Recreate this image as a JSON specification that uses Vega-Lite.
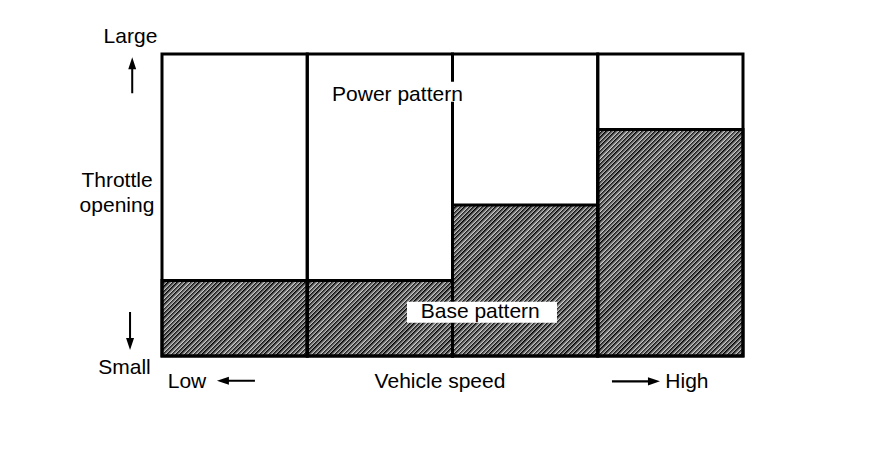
{
  "$schema": "https://vega.github.io/schema/vega-lite/v6.json",
  "width": 581,
  "height": 302,
  "autosize": {"type": "none"},
  "padding": {"left": 162, "top": 54, "right": 153, "bottom": 94},
  "background": "white",
  "config": {
    "view": {"stroke": null},
    "text": {"font": "Liberation Sans", "fontSize": 21, "color": "black", "align": "center", "baseline": "alphabetic"},
    "point": {"color": "black", "filled": true, "opacity": 1, "strokeWidth": 0}
  },
  "data": {"values": [
    {"speed": "low", "x0": 0, "x1": 1, "floor": 0, "base": 25, "power": 100},
    {"speed": "mid-low", "x0": 1, "x1": 2, "floor": 0, "base": 25, "power": 100},
    {"speed": "mid-high", "x0": 2, "x1": 3, "floor": 0, "base": 50, "power": 100},
    {"speed": "high", "x0": 3, "x1": 4, "floor": 0, "base": 75, "power": 100}
  ]},
  "layer": [
    {
      "transform": [{"aggregate": [{"op": "min", "field": "x0", "as": "lo"}, {"op": "max", "field": "x1", "as": "hi"}, {"op": "min", "field": "floor", "as": "f"}, {"op": "max", "field": "power", "as": "p"}]}],
      "mark": {"type": "rect", "fill": {"gradient": "linear", "x1": 0, "y1": 0, "x2": 1.1965, "y2": 0.622, "stops": [
        {"offset":0,"color":"#000"},
        {"offset":0.005,"color":"#ccc"},{"offset":0.005,"color":"#000"},{"offset":0.01,"color":"#ccc"},{"offset":0.01,"color":"#000"},
        {"offset":0.015,"color":"#ccc"},{"offset":0.015,"color":"#000"},{"offset":0.02,"color":"#ccc"},{"offset":0.02,"color":"#000"},
        {"offset":0.025,"color":"#ccc"},{"offset":0.025,"color":"#000"},{"offset":0.03,"color":"#ccc"},{"offset":0.03,"color":"#000"},
        {"offset":0.035,"color":"#ccc"},{"offset":0.035,"color":"#000"},{"offset":0.04,"color":"#ccc"},{"offset":0.04,"color":"#000"},
        {"offset":0.045,"color":"#ccc"},{"offset":0.045,"color":"#000"},{"offset":0.05,"color":"#ccc"},{"offset":0.05,"color":"#000"},
        {"offset":0.055,"color":"#ccc"},{"offset":0.055,"color":"#000"},{"offset":0.06,"color":"#ccc"},{"offset":0.06,"color":"#000"},
        {"offset":0.065,"color":"#ccc"},{"offset":0.065,"color":"#000"},{"offset":0.07,"color":"#ccc"},{"offset":0.07,"color":"#000"},
        {"offset":0.075,"color":"#ccc"},{"offset":0.075,"color":"#000"},{"offset":0.08,"color":"#ccc"},{"offset":0.08,"color":"#000"},
        {"offset":0.085,"color":"#ccc"},{"offset":0.085,"color":"#000"},{"offset":0.09,"color":"#ccc"},{"offset":0.09,"color":"#000"},
        {"offset":0.095,"color":"#ccc"},{"offset":0.095,"color":"#000"},{"offset":0.1,"color":"#ccc"},{"offset":0.1,"color":"#000"},
        {"offset":0.105,"color":"#ccc"},{"offset":0.105,"color":"#000"},{"offset":0.11,"color":"#ccc"},{"offset":0.11,"color":"#000"},
        {"offset":0.115,"color":"#ccc"},{"offset":0.115,"color":"#000"},{"offset":0.12,"color":"#ccc"},{"offset":0.12,"color":"#000"},
        {"offset":0.125,"color":"#ccc"},{"offset":0.125,"color":"#000"},{"offset":0.13,"color":"#ccc"},{"offset":0.13,"color":"#000"},
        {"offset":0.135,"color":"#ccc"},{"offset":0.135,"color":"#000"},{"offset":0.14,"color":"#ccc"},{"offset":0.14,"color":"#000"},
        {"offset":0.145,"color":"#ccc"},{"offset":0.145,"color":"#000"},{"offset":0.15,"color":"#ccc"},{"offset":0.15,"color":"#000"},
        {"offset":0.155,"color":"#ccc"},{"offset":0.155,"color":"#000"},{"offset":0.16,"color":"#ccc"},{"offset":0.16,"color":"#000"},
        {"offset":0.165,"color":"#ccc"},{"offset":0.165,"color":"#000"},{"offset":0.17,"color":"#ccc"},{"offset":0.17,"color":"#000"},
        {"offset":0.175,"color":"#ccc"},{"offset":0.175,"color":"#000"},{"offset":0.18,"color":"#ccc"},{"offset":0.18,"color":"#000"},
        {"offset":0.185,"color":"#ccc"},{"offset":0.185,"color":"#000"},{"offset":0.19,"color":"#ccc"},{"offset":0.19,"color":"#000"},
        {"offset":0.195,"color":"#ccc"},{"offset":0.195,"color":"#000"},{"offset":0.2,"color":"#ccc"},{"offset":0.2,"color":"#000"},
        {"offset":0.205,"color":"#ccc"},{"offset":0.205,"color":"#000"},{"offset":0.21,"color":"#ccc"},{"offset":0.21,"color":"#000"},
        {"offset":0.215,"color":"#ccc"},{"offset":0.215,"color":"#000"},{"offset":0.22,"color":"#ccc"},{"offset":0.22,"color":"#000"},
        {"offset":0.225,"color":"#ccc"},{"offset":0.225,"color":"#000"},{"offset":0.23,"color":"#ccc"},{"offset":0.23,"color":"#000"},
        {"offset":0.235,"color":"#ccc"},{"offset":0.235,"color":"#000"},{"offset":0.24,"color":"#ccc"},{"offset":0.24,"color":"#000"},
        {"offset":0.245,"color":"#ccc"},{"offset":0.245,"color":"#000"},{"offset":0.25,"color":"#ccc"},{"offset":0.25,"color":"#000"},
        {"offset":0.255,"color":"#ccc"},{"offset":0.255,"color":"#000"},{"offset":0.26,"color":"#ccc"},{"offset":0.26,"color":"#000"},
        {"offset":0.265,"color":"#ccc"},{"offset":0.265,"color":"#000"},{"offset":0.27,"color":"#ccc"},{"offset":0.27,"color":"#000"},
        {"offset":0.275,"color":"#ccc"},{"offset":0.275,"color":"#000"},{"offset":0.28,"color":"#ccc"},{"offset":0.28,"color":"#000"},
        {"offset":0.285,"color":"#ccc"},{"offset":0.285,"color":"#000"},{"offset":0.29,"color":"#ccc"},{"offset":0.29,"color":"#000"},
        {"offset":0.295,"color":"#ccc"},{"offset":0.295,"color":"#000"},{"offset":0.3,"color":"#ccc"},{"offset":0.3,"color":"#000"},
        {"offset":0.305,"color":"#ccc"},{"offset":0.305,"color":"#000"},{"offset":0.31,"color":"#ccc"},{"offset":0.31,"color":"#000"},
        {"offset":0.315,"color":"#ccc"},{"offset":0.315,"color":"#000"},{"offset":0.32,"color":"#ccc"},{"offset":0.32,"color":"#000"},
        {"offset":0.325,"color":"#ccc"},{"offset":0.325,"color":"#000"},{"offset":0.33,"color":"#ccc"},{"offset":0.33,"color":"#000"},
        {"offset":0.335,"color":"#ccc"},{"offset":0.335,"color":"#000"},{"offset":0.34,"color":"#ccc"},{"offset":0.34,"color":"#000"},
        {"offset":0.345,"color":"#ccc"},{"offset":0.345,"color":"#000"},{"offset":0.35,"color":"#ccc"},{"offset":0.35,"color":"#000"},
        {"offset":0.355,"color":"#ccc"},{"offset":0.355,"color":"#000"},{"offset":0.36,"color":"#ccc"},{"offset":0.36,"color":"#000"},
        {"offset":0.365,"color":"#ccc"},{"offset":0.365,"color":"#000"},{"offset":0.37,"color":"#ccc"},{"offset":0.37,"color":"#000"},
        {"offset":0.375,"color":"#ccc"},{"offset":0.375,"color":"#000"},{"offset":0.38,"color":"#ccc"},{"offset":0.38,"color":"#000"},
        {"offset":0.385,"color":"#ccc"},{"offset":0.385,"color":"#000"},{"offset":0.39,"color":"#ccc"},{"offset":0.39,"color":"#000"},
        {"offset":0.395,"color":"#ccc"},{"offset":0.395,"color":"#000"},{"offset":0.4,"color":"#ccc"},{"offset":0.4,"color":"#000"},
        {"offset":0.405,"color":"#ccc"},{"offset":0.405,"color":"#000"},{"offset":0.41,"color":"#ccc"},{"offset":0.41,"color":"#000"},
        {"offset":0.415,"color":"#ccc"},{"offset":0.415,"color":"#000"},{"offset":0.42,"color":"#ccc"},{"offset":0.42,"color":"#000"},
        {"offset":0.425,"color":"#ccc"},{"offset":0.425,"color":"#000"},{"offset":0.43,"color":"#ccc"},{"offset":0.43,"color":"#000"},
        {"offset":0.435,"color":"#ccc"},{"offset":0.435,"color":"#000"},{"offset":0.44,"color":"#ccc"},{"offset":0.44,"color":"#000"},
        {"offset":0.445,"color":"#ccc"},{"offset":0.445,"color":"#000"},{"offset":0.45,"color":"#ccc"},{"offset":0.45,"color":"#000"},
        {"offset":0.455,"color":"#ccc"},{"offset":0.455,"color":"#000"},{"offset":0.46,"color":"#ccc"},{"offset":0.46,"color":"#000"},
        {"offset":0.465,"color":"#ccc"},{"offset":0.465,"color":"#000"},{"offset":0.47,"color":"#ccc"},{"offset":0.47,"color":"#000"},
        {"offset":0.475,"color":"#ccc"},{"offset":0.475,"color":"#000"},{"offset":0.48,"color":"#ccc"},{"offset":0.48,"color":"#000"},
        {"offset":0.485,"color":"#ccc"},{"offset":0.485,"color":"#000"},{"offset":0.49,"color":"#ccc"},{"offset":0.49,"color":"#000"},
        {"offset":0.495,"color":"#ccc"},{"offset":0.495,"color":"#000"},{"offset":0.5,"color":"#ccc"},{"offset":0.5,"color":"#000"},
        {"offset":0.505,"color":"#ccc"},{"offset":0.505,"color":"#000"},{"offset":0.51,"color":"#ccc"},{"offset":0.51,"color":"#000"},
        {"offset":0.515,"color":"#ccc"},{"offset":0.515,"color":"#000"},{"offset":0.52,"color":"#ccc"},{"offset":0.52,"color":"#000"},
        {"offset":0.525,"color":"#ccc"},{"offset":0.525,"color":"#000"},{"offset":0.53,"color":"#ccc"},{"offset":0.53,"color":"#000"},
        {"offset":0.535,"color":"#ccc"},{"offset":0.535,"color":"#000"},{"offset":0.54,"color":"#ccc"},{"offset":0.54,"color":"#000"},
        {"offset":0.545,"color":"#ccc"},{"offset":0.545,"color":"#000"},{"offset":0.55,"color":"#ccc"},{"offset":0.55,"color":"#000"},
        {"offset":0.555,"color":"#ccc"},{"offset":0.555,"color":"#000"},{"offset":0.56,"color":"#ccc"},{"offset":0.56,"color":"#000"},
        {"offset":0.565,"color":"#ccc"},{"offset":0.565,"color":"#000"},{"offset":0.57,"color":"#ccc"},{"offset":0.57,"color":"#000"},
        {"offset":0.575,"color":"#ccc"},{"offset":0.575,"color":"#000"},{"offset":0.58,"color":"#ccc"},{"offset":0.58,"color":"#000"},
        {"offset":0.585,"color":"#ccc"},{"offset":0.585,"color":"#000"},{"offset":0.59,"color":"#ccc"},{"offset":0.59,"color":"#000"},
        {"offset":0.595,"color":"#ccc"},{"offset":0.595,"color":"#000"},{"offset":0.6,"color":"#ccc"},{"offset":0.6,"color":"#000"},
        {"offset":0.605,"color":"#ccc"},{"offset":0.605,"color":"#000"},{"offset":0.61,"color":"#ccc"},{"offset":0.61,"color":"#000"},
        {"offset":0.615,"color":"#ccc"},{"offset":0.615,"color":"#000"},{"offset":0.62,"color":"#ccc"},{"offset":0.62,"color":"#000"},
        {"offset":0.625,"color":"#ccc"},{"offset":0.625,"color":"#000"},{"offset":0.63,"color":"#ccc"},{"offset":0.63,"color":"#000"},
        {"offset":0.635,"color":"#ccc"},{"offset":0.635,"color":"#000"},{"offset":0.64,"color":"#ccc"},{"offset":0.64,"color":"#000"},
        {"offset":0.645,"color":"#ccc"},{"offset":0.645,"color":"#000"},{"offset":0.65,"color":"#ccc"},{"offset":0.65,"color":"#000"},
        {"offset":0.655,"color":"#ccc"},{"offset":0.655,"color":"#000"},{"offset":0.66,"color":"#ccc"},{"offset":0.66,"color":"#000"},
        {"offset":0.665,"color":"#ccc"},{"offset":0.665,"color":"#000"},{"offset":0.67,"color":"#ccc"},{"offset":0.67,"color":"#000"},
        {"offset":0.675,"color":"#ccc"},{"offset":0.675,"color":"#000"},{"offset":0.68,"color":"#ccc"},{"offset":0.68,"color":"#000"},
        {"offset":0.685,"color":"#ccc"},{"offset":0.685,"color":"#000"},{"offset":0.69,"color":"#ccc"},{"offset":0.69,"color":"#000"},
        {"offset":0.695,"color":"#ccc"},{"offset":0.695,"color":"#000"},{"offset":0.7,"color":"#ccc"},{"offset":0.7,"color":"#000"},
        {"offset":0.705,"color":"#ccc"},{"offset":0.705,"color":"#000"},{"offset":0.71,"color":"#ccc"},{"offset":0.71,"color":"#000"},
        {"offset":0.715,"color":"#ccc"},{"offset":0.715,"color":"#000"},{"offset":0.72,"color":"#ccc"},{"offset":0.72,"color":"#000"},
        {"offset":0.725,"color":"#ccc"},{"offset":0.725,"color":"#000"},{"offset":0.73,"color":"#ccc"},{"offset":0.73,"color":"#000"},
        {"offset":0.735,"color":"#ccc"},{"offset":0.735,"color":"#000"},{"offset":0.74,"color":"#ccc"},{"offset":0.74,"color":"#000"},
        {"offset":0.745,"color":"#ccc"},{"offset":0.745,"color":"#000"},{"offset":0.75,"color":"#ccc"},{"offset":0.75,"color":"#000"},
        {"offset":0.755,"color":"#ccc"},{"offset":0.755,"color":"#000"},{"offset":0.76,"color":"#ccc"},{"offset":0.76,"color":"#000"},
        {"offset":0.765,"color":"#ccc"},{"offset":0.765,"color":"#000"},{"offset":0.77,"color":"#ccc"},{"offset":0.77,"color":"#000"},
        {"offset":0.775,"color":"#ccc"},{"offset":0.775,"color":"#000"},{"offset":0.78,"color":"#ccc"},{"offset":0.78,"color":"#000"},
        {"offset":0.785,"color":"#ccc"},{"offset":0.785,"color":"#000"},{"offset":0.79,"color":"#ccc"},{"offset":0.79,"color":"#000"},
        {"offset":0.795,"color":"#ccc"},{"offset":0.795,"color":"#000"},{"offset":0.8,"color":"#ccc"},{"offset":0.8,"color":"#000"},
        {"offset":0.805,"color":"#ccc"},{"offset":0.805,"color":"#000"},{"offset":0.81,"color":"#ccc"},{"offset":0.81,"color":"#000"},
        {"offset":0.815,"color":"#ccc"},{"offset":0.815,"color":"#000"},{"offset":0.82,"color":"#ccc"},{"offset":0.82,"color":"#000"},
        {"offset":0.825,"color":"#ccc"},{"offset":0.825,"color":"#000"},{"offset":0.83,"color":"#ccc"},{"offset":0.83,"color":"#000"},
        {"offset":0.835,"color":"#ccc"},{"offset":0.835,"color":"#000"},{"offset":0.84,"color":"#ccc"},{"offset":0.84,"color":"#000"},
        {"offset":0.845,"color":"#ccc"},{"offset":0.845,"color":"#000"},{"offset":0.85,"color":"#ccc"},{"offset":0.85,"color":"#000"},
        {"offset":0.855,"color":"#ccc"},{"offset":0.855,"color":"#000"},{"offset":0.86,"color":"#ccc"},{"offset":0.86,"color":"#000"},
        {"offset":0.865,"color":"#ccc"},{"offset":0.865,"color":"#000"},{"offset":0.87,"color":"#ccc"},{"offset":0.87,"color":"#000"},
        {"offset":0.875,"color":"#ccc"},{"offset":0.875,"color":"#000"},{"offset":0.88,"color":"#ccc"},{"offset":0.88,"color":"#000"},
        {"offset":0.885,"color":"#ccc"},{"offset":0.885,"color":"#000"},{"offset":0.89,"color":"#ccc"},{"offset":0.89,"color":"#000"},
        {"offset":0.895,"color":"#ccc"},{"offset":0.895,"color":"#000"},{"offset":0.9,"color":"#ccc"},{"offset":0.9,"color":"#000"},
        {"offset":0.905,"color":"#ccc"},{"offset":0.905,"color":"#000"},{"offset":0.91,"color":"#ccc"},{"offset":0.91,"color":"#000"},
        {"offset":0.915,"color":"#ccc"},{"offset":0.915,"color":"#000"},{"offset":0.92,"color":"#ccc"},{"offset":0.92,"color":"#000"},
        {"offset":0.925,"color":"#ccc"},{"offset":0.925,"color":"#000"},{"offset":0.93,"color":"#ccc"},{"offset":0.93,"color":"#000"},
        {"offset":0.935,"color":"#ccc"},{"offset":0.935,"color":"#000"},{"offset":0.94,"color":"#ccc"},{"offset":0.94,"color":"#000"},
        {"offset":0.945,"color":"#ccc"},{"offset":0.945,"color":"#000"},{"offset":0.95,"color":"#ccc"},{"offset":0.95,"color":"#000"},
        {"offset":0.955,"color":"#ccc"},{"offset":0.955,"color":"#000"},{"offset":0.96,"color":"#ccc"},{"offset":0.96,"color":"#000"},
        {"offset":0.965,"color":"#ccc"},{"offset":0.965,"color":"#000"},{"offset":0.97,"color":"#ccc"},{"offset":0.97,"color":"#000"},
        {"offset":0.975,"color":"#ccc"},{"offset":0.975,"color":"#000"},{"offset":0.98,"color":"#ccc"},{"offset":0.98,"color":"#000"},
        {"offset":0.985,"color":"#ccc"},{"offset":0.985,"color":"#000"},{"offset":0.99,"color":"#ccc"},{"offset":0.99,"color":"#000"},
        {"offset":0.995,"color":"#ccc"},{"offset":0.995,"color":"#000"},{"offset":1,"color":"#ccc"}
      ]}},
      "encoding": {
        "x": {"field": "lo", "type": "quantitative", "scale": {"domain": [0, 4], "nice": false, "zero": false}, "axis": null},
        "x2": {"field": "hi"},
        "y": {"field": "f", "type": "quantitative", "scale": {"domain": [0, 100], "nice": false, "zero": false}, "axis": null},
        "y2": {"field": "p"}
      }
    },
    {
      "mark": {"type": "rect", "fill": "white", "strokeWidth": 0},
      "encoding": {
        "x": {"field": "x0", "type": "quantitative", "scale": {"domain": [0, 4], "nice": false, "zero": false}, "axis": null},
        "x2": {"field": "x1"},
        "y": {"field": "base", "type": "quantitative", "scale": {"domain": [0, 100], "nice": false, "zero": false}, "axis": null},
        "y2": {"field": "power"}
      }
    },
    {
      "mark": {"type": "rect", "filled": false, "stroke": "black", "strokeWidth": 3, "opacity": 1},
      "encoding": {
        "x": {"field": "x0", "type": "quantitative", "scale": {"domain": [0, 4], "nice": false, "zero": false}, "axis": null},
        "x2": {"field": "x1"},
        "y": {"field": "floor", "type": "quantitative", "scale": {"domain": [0, 100], "nice": false, "zero": false}, "axis": null},
        "y2": {"field": "power"}
      }
    },
    {
      "mark": {"type": "rect", "filled": false, "stroke": "black", "strokeWidth": 3, "opacity": 1},
      "encoding": {
        "x": {"field": "x0", "type": "quantitative", "scale": {"domain": [0, 4], "nice": false, "zero": false}, "axis": null},
        "x2": {"field": "x1"},
        "y": {"field": "floor", "type": "quantitative", "scale": {"domain": [0, 100], "nice": false, "zero": false}, "axis": null},
        "y2": {"field": "base"}
      }
    },
    {"data": {"values": [{}]}, "mark": {"type": "point", "shape": "M-1,-0.14L1,-0.14L1,0.14L-1,0.14Z", "size": 22500, "color": "white"}, "encoding": {"x": {"datum": 2.203, "type": "quantitative", "axis": null}, "y": {"datum": 14.5, "type": "quantitative", "axis": null}}},
    {"data": {"values": [{}]}, "mark": {"type": "point", "shape": "M-1,-0.15L1,-0.15L1,0.15L-1,0.15Z", "size": 17956, "color": "white"}, "encoding": {"x": {"datum": 1.621, "type": "quantitative", "axis": null}, "y": {"datum": 87.5, "type": "quantitative", "axis": null}}},
    {"data": {"values": [{}]}, "mark": {"type": "text", "text": "Base pattern"}, "encoding": {"x": {"datum": 2.191, "type": "quantitative", "axis": null}, "y": {"datum": 12.5, "type": "quantitative", "axis": null}}},
    {"data": {"values": [{}]}, "mark": {"type": "text", "text": "Power pattern"}, "encoding": {"x": {"datum": 1.621, "type": "quantitative", "axis": null}, "y": {"datum": 84.4, "type": "quantitative", "axis": null}}},
    {"data": {"values": [{}]}, "mark": {"type": "text", "text": "Large"}, "encoding": {"x": {"datum": -0.217, "type": "quantitative", "axis": null}, "y": {"datum": 103.6, "type": "quantitative", "axis": null}}},
    {"data": {"values": [{}]}, "mark": {"type": "text", "text": "Small"}, "encoding": {"x": {"datum": -0.258, "type": "quantitative", "axis": null}, "y": {"datum": -6.1, "type": "quantitative", "axis": null}}},
    {"data": {"values": [{}]}, "mark": {"type": "text", "text": "Throttle"}, "encoding": {"x": {"datum": -0.31, "type": "quantitative", "axis": null}, "y": {"datum": 56.1, "type": "quantitative", "axis": null}}},
    {"data": {"values": [{}]}, "mark": {"type": "text", "text": "opening"}, "encoding": {"x": {"datum": -0.31, "type": "quantitative", "axis": null}, "y": {"datum": 47.8, "type": "quantitative", "axis": null}}},
    {"data": {"values": [{}]}, "mark": {"type": "text", "text": "Low"}, "encoding": {"x": {"datum": 0.172, "type": "quantitative", "axis": null}, "y": {"datum": -10.6, "type": "quantitative", "axis": null}}},
    {"data": {"values": [{}]}, "mark": {"type": "text", "text": "Vehicle speed"}, "encoding": {"x": {"datum": 1.914, "type": "quantitative", "axis": null}, "y": {"datum": -10.6, "type": "quantitative", "axis": null}}},
    {"data": {"values": [{}]}, "mark": {"type": "text", "text": "High"}, "encoding": {"x": {"datum": 3.614, "type": "quantitative", "axis": null}, "y": {"datum": -10.6, "type": "quantitative", "axis": null}}},
    {"data": {"values": [{}]}, "mark": {"type": "point", "shape": "M0,-1L0.22,-0.33L0.056,-0.33L0.056,1L-0.056,1L-0.056,-0.33L-0.22,-0.33Z", "size": 1296}, "encoding": {"x": {"datum": -0.205, "type": "quantitative", "axis": null}, "y": {"datum": 93.0, "type": "quantitative", "axis": null}}},
    {"data": {"values": [{}]}, "mark": {"type": "point", "shape": "M0,1L0.21,0.37L0.053,0.37L0.053,-1L-0.053,-1L-0.053,0.37L-0.21,0.37Z", "size": 1444}, "encoding": {"x": {"datum": -0.22, "type": "quantitative", "axis": null}, "y": {"datum": 8.3, "type": "quantitative", "axis": null}}},
    {"data": {"values": [{}]}, "mark": {"type": "point", "shape": "M-1,0L-0.37,-0.21L-0.37,-0.053L1,-0.053L1,0.053L-0.37,0.053L-0.37,0.21Z", "size": 1444}, "encoding": {"x": {"datum": 0.509, "type": "quantitative", "axis": null}, "y": {"datum": -8.2, "type": "quantitative", "axis": null}}},
    {"data": {"values": [{}]}, "mark": {"type": "point", "shape": "M1,0L0.5,-0.167L0.5,-0.042L-1,-0.042L-1,0.042L0.5,0.042L0.5,0.167Z", "size": 2304}, "encoding": {"x": {"datum": 3.263, "type": "quantitative", "axis": null}, "y": {"datum": -8.4, "type": "quantitative", "axis": null}}}
  ]
}
